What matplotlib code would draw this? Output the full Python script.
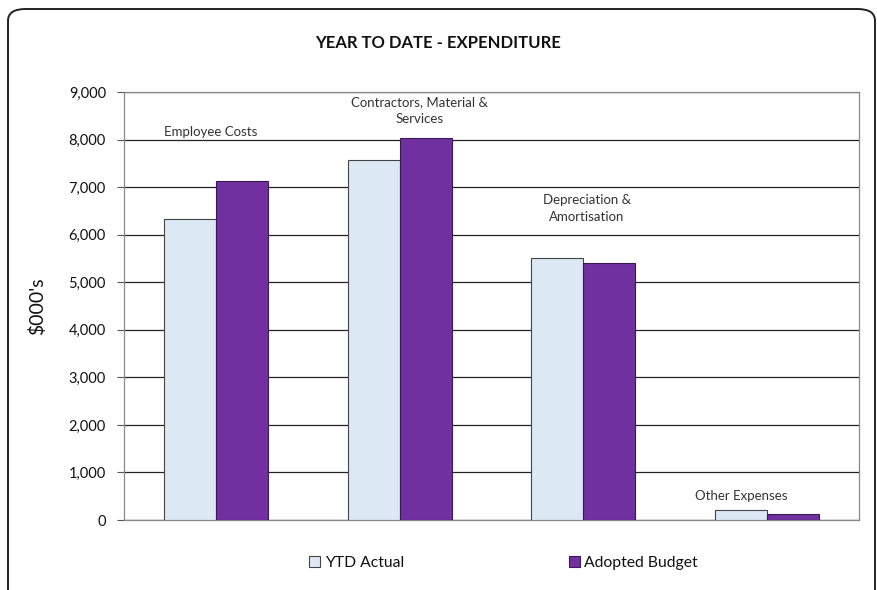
import matplotlib
matplotlib.use("Agg")
import matplotlib.pyplot as plt
import numpy as np
from matplotlib.patches import FancyBboxPatch
from matplotlib.ticker import FuncFormatter

plt.rcParams['font.family'] = ['Lato', 'DejaVu Sans']

categories = ["Employee Costs", "Contractors, Material &\nServices",
              "Depreciation &\nAmortisation", "Other Expenses"]
ytd_actual = [6340, 7580, 5500, 220]
adopted_budget = [7120, 8030, 5400, 130]
series_names = ["YTD Actual", "Adopted Budget"]

# placement of the in-plot category labels (style, not data)
label_y = [8030, 8300, 6250, 380]
label_dx = [-0.03, 0.11, 0.02, -0.14]

fig = plt.figure(figsize=(8.77, 5.90), dpi=100)
fig.patches.append(FancyBboxPatch((8/877, -0.05), 867/877, 1.05 - 9/590,
                                  boxstyle="round,pad=0,rounding_size=0.02",
                                  transform=fig.transFigure, fill=False,
                                  edgecolor="#222222", linewidth=1.4))
ax = fig.add_axes([0.1414, 0.1186, 0.8381, 0.7254])

x = np.arange(len(categories))
w = 0.283
c1, c2 = "#DCE9F5", "#7030A0"
ax.bar(x - w/2, ytd_actual, w, color=c1, edgecolor="#444444", linewidth=0.8, zorder=3, label=series_names[0])
ax.bar(x + w/2, adopted_budget, w, color=c2, edgecolor="#3A1A55", linewidth=0.8, zorder=3, label=series_names[1])

for i, cat in enumerate(categories):
    ax.text(x[i] + label_dx[i], label_y[i], cat, ha="center", va="bottom", fontsize=9.5,
            color="#333333", linespacing=1.5, zorder=4)

ax.set_xlim(-0.5, len(categories) - 0.5)
ax.set_ylim(0, 9000)
ax.set_yticks(range(0, 9001, 1000))
ax.yaxis.set_major_formatter(FuncFormatter(lambda v, p: f"{int(v):,}"))
ax.set_xticks([])
ax.grid(axis="y", color="#222222", linewidth=0.9, zorder=0)
for s in ax.spines.values():
    s.set_color("#888888")
    s.set_linewidth(0.9)
ax.tick_params(axis="y", direction="out", length=5, color="#555555", labelsize=10.5, pad=8, labelcolor="#111111")
ax.set_ylabel("$000's", fontsize=14, labelpad=16, color="#111111")

fig.text(0.5, 0.927, "YEAR TO DATE - EXPENDITURE", ha="center", va="center",
         fontsize=12, fontweight="bold", color="#111111")

leg = fig.legend(loc="center", bbox_to_anchor=(0.574, 0.046), ncol=2, frameon=False,
                 fontsize=11.3, columnspacing=10.5, handlelength=0.7, handleheight=0.7, handletextpad=0.3)
for t in leg.get_texts():
    t.set_color("#111111")

fig.savefig("out.png", dpi=100)
